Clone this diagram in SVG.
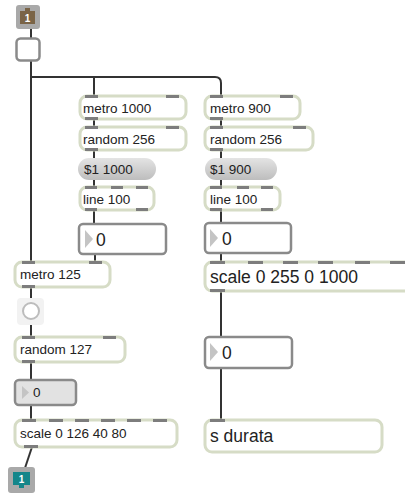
<svg xmlns="http://www.w3.org/2000/svg" width="405" height="493" viewBox="0 0 405 493">
<defs>
<linearGradient id="msg" x1="0" y1="0" x2="0" y2="1">
<stop offset="0" stop-color="#e4e4e4"/><stop offset="1" stop-color="#bdbdbd"/>
</linearGradient>
<style>
.obj{fill:#fff;stroke:#d6dcc6;stroke-width:3}
.num{fill:#fff;stroke:#8a8a8a;stroke-width:2.5}
.bar{fill:#7d7d7d}
.t{font-family:"Liberation Sans",Arial,sans-serif;font-size:13.5px;fill:#222}
.tb{font-family:"Liberation Sans",Arial,sans-serif;font-size:17.5px;fill:#222}
.tri{fill:#c4c4c4}
.cord{fill:none;stroke:#333;stroke-width:2}
</style>
</defs>
<rect width="405" height="493" fill="#fff"/>
<g id="connectors">
<path class="cord" d="M31 29 V38"/>
<path class="cord" d="M31 61 V262"/>
<path class="cord" d="M31 77 H215 Q221 77 221 83 V96"/>
<path class="cord" d="M94 77 V96"/>
<path class="cord" d="M94 119 V127"/>
<path class="cord" d="M94 150 V158"/>
<path class="cord" d="M94 180 V187"/>
<path class="cord" d="M94 210 V224"/>
<path class="cord" d="M95 254 V262"/>
<path class="cord" d="M221 119 V127"/>
<path class="cord" d="M221 150 V158"/>
<path class="cord" d="M221 180 V187"/>
<path class="cord" d="M221 210 V223"/>
<path class="cord" d="M221 253 V262"/>
<path class="cord" d="M221 291 V337"/>
<path class="cord" d="M221 368 V420"/>
<path class="cord" d="M31 287 V303"/>
<path class="cord" d="M31 319 V337"/>
<path class="cord" d="M31 362 V380"/>
<path class="cord" d="M31 405 V420"/>
<path class="cord" d="M32 447 L25 468"/>
</g>
<g id="inlet1">
<rect x="16" y="5" width="24" height="24" rx="3" fill="#a9a9a9"/>
<rect x="20" y="11" width="15" height="13" fill="#7a6447"/>
<rect x="25" y="8" width="5" height="4" fill="#7a6447"/>
<text x="27.5" y="22" text-anchor="middle" style="font-family:'Liberation Sans',sans-serif;font-size:10px;font-weight:bold;fill:#fff">1</text>
</g>
<g id="toggle">
<rect x="16.5" y="38.5" width="23" height="22" rx="4" fill="#fff" stroke="#8a8a8a" stroke-width="2.5"/>
</g>
<g id="metro1000">
<rect class="obj" x="80" y="96" width="106" height="23" rx="7"/>
<rect class="bar" x="85" y="95" width="13" height="3"/><rect class="bar" x="166" y="95" width="13" height="3"/>
<rect class="bar" x="85" y="117" width="13" height="3"/>
<text class="t" x="83" y="112.5">metro 1000</text>
</g>
<g id="random256L">
<rect class="obj" x="80" y="127" width="106" height="23" rx="7"/>
<rect class="bar" x="85" y="126" width="13" height="3"/><rect class="bar" x="166" y="126" width="13" height="3"/>
<rect class="bar" x="85" y="148" width="13" height="3"/>
<text class="t" x="83" y="143.5">random 256</text>
</g>
<g id="msg1000">
<rect x="78" y="158" width="78" height="22" rx="11" fill="url(#msg)"/>
<text class="t" x="84" y="174">$1 1000</text>
</g>
<g id="line100L">
<rect class="obj" x="80" y="187" width="74" height="23" rx="7"/>
<rect class="bar" x="85" y="186" width="12" height="3"/><rect class="bar" x="111" y="186" width="12" height="3"/><rect class="bar" x="136" y="186" width="12" height="3"/>
<rect class="bar" x="85" y="208" width="12" height="3"/><rect class="bar" x="136" y="208" width="12" height="3"/>
<text class="t" x="83" y="203.5">line 100</text>
</g>
<g id="numL">
<rect class="num" x="79" y="224" width="87" height="30" rx="4"/>
<path class="tri" d="M85 230 L93 239 L85 248 Z"/>
<text class="tb" x="96" y="246">0</text>
</g>
<g id="metro900">
<rect class="obj" x="205" y="96" width="95" height="23" rx="7"/>
<rect class="bar" x="210" y="95" width="13" height="3"/><rect class="bar" x="280" y="95" width="13" height="3"/>
<rect class="bar" x="210" y="117" width="13" height="3"/>
<text class="t" x="210" y="112.5">metro 900</text>
</g>
<g id="random256R">
<rect class="obj" x="205" y="127" width="108" height="23" rx="7"/>
<rect class="bar" x="210" y="126" width="13" height="3"/><rect class="bar" x="293" y="126" width="13" height="3"/>
<rect class="bar" x="210" y="148" width="13" height="3"/>
<text class="t" x="210" y="143.5">random 256</text>
</g>
<g id="msg900">
<rect x="205" y="158" width="72" height="22" rx="11" fill="url(#msg)"/>
<text class="t" x="210" y="174">$1 900</text>
</g>
<g id="line100R">
<rect class="obj" x="205" y="187" width="75" height="23" rx="7"/>
<rect class="bar" x="210" y="186" width="12" height="3"/><rect class="bar" x="237" y="186" width="12" height="3"/><rect class="bar" x="261" y="186" width="12" height="3"/>
<rect class="bar" x="210" y="208" width="12" height="3"/><rect class="bar" x="261" y="208" width="12" height="3"/>
<text class="t" x="210" y="203.5">line 100</text>
</g>
<g id="numR">
<rect class="num" x="205" y="223" width="86" height="30" rx="4"/>
<path class="tri" d="M210 229 L218 238 L210 247 Z"/>
<text class="tb" x="222" y="245">0</text>
</g>
<g id="scaleR">
<rect class="obj" x="205" y="262" width="215" height="29" rx="7"/>
<rect class="bar" x="210" y="261" width="15" height="3"/><rect class="bar" x="248" y="261" width="15" height="3"/><rect class="bar" x="283" y="261" width="15" height="3"/><rect class="bar" x="318" y="261" width="15" height="3"/><rect class="bar" x="355" y="261" width="15" height="3"/><rect class="bar" x="390" y="261" width="15" height="3"/>
<rect class="bar" x="210" y="289" width="15" height="3"/>
<text class="tb" x="210" y="283">scale 0 255 0 1000</text>
</g>
<g id="numR2">
<rect class="num" x="205" y="337" width="87" height="31" rx="4"/>
<path class="tri" d="M210 343 L218 352 L210 361 Z"/>
<text class="tb" x="222" y="359">0</text>
</g>
<g id="sdurata">
<rect class="obj" x="205" y="420" width="177" height="32" rx="7"/>
<rect class="bar" x="210" y="419" width="15" height="3"/>
<text class="tb" x="210" y="442">s durata</text>
</g>
<g id="metro125">
<rect class="obj" x="15" y="262" width="95" height="25" rx="7"/>
<rect class="bar" x="22" y="261" width="13" height="3"/><rect class="bar" x="89" y="261" width="13" height="3"/>
<rect class="bar" x="22" y="285" width="13" height="3"/>
<text class="t" x="20" y="279">metro 125</text>
</g>
<g id="button">
<rect x="17" y="298" width="27" height="27" rx="4" fill="#f2f2f2"/>
<circle cx="31" cy="311" r="8" fill="#fff" stroke="#bcbcbc" stroke-width="2"/>
</g>
<g id="random127">
<rect class="obj" x="15" y="337" width="110" height="25" rx="7"/>
<rect class="bar" x="22" y="336" width="13" height="3"/><rect class="bar" x="103" y="336" width="13" height="3"/>
<rect class="bar" x="22" y="360" width="13" height="3"/>
<text class="t" x="20" y="354">random 127</text>
</g>
<g id="numL2">
<rect x="15" y="380" width="61" height="25" rx="4" fill="#e2e2e2" stroke="#8a8a8a" stroke-width="2.5"/>
<path class="tri" d="M22 386 L29 392.5 L22 399 Z"/>
<text class="t" x="33" y="397">0</text>
</g>
<g id="scaleL">
<rect class="obj" x="15" y="420" width="162" height="27" rx="7"/>
<rect class="bar" x="22" y="419" width="14" height="3"/><rect class="bar" x="49" y="419" width="14" height="3"/><rect class="bar" x="75" y="419" width="14" height="3"/><rect class="bar" x="101" y="419" width="14" height="3"/><rect class="bar" x="127" y="419" width="14" height="3"/><rect class="bar" x="153" y="419" width="14" height="3"/>
<rect class="bar" x="24" y="445" width="14" height="3"/>
<text class="t" x="20" y="438">scale 0 126 40 80</text>
</g>
<g id="outlet1">
<rect x="8" y="467" width="27" height="26" rx="3" fill="#a9a9a9"/>
<rect x="13" y="472" width="17" height="13" fill="#14868a"/>
<rect x="19" y="484" width="5" height="4" fill="#14868a"/>
<text x="21.5" y="483" text-anchor="middle" style="font-family:'Liberation Sans',sans-serif;font-size:10px;font-weight:bold;fill:#fff">1</text>
</g>
</svg>
